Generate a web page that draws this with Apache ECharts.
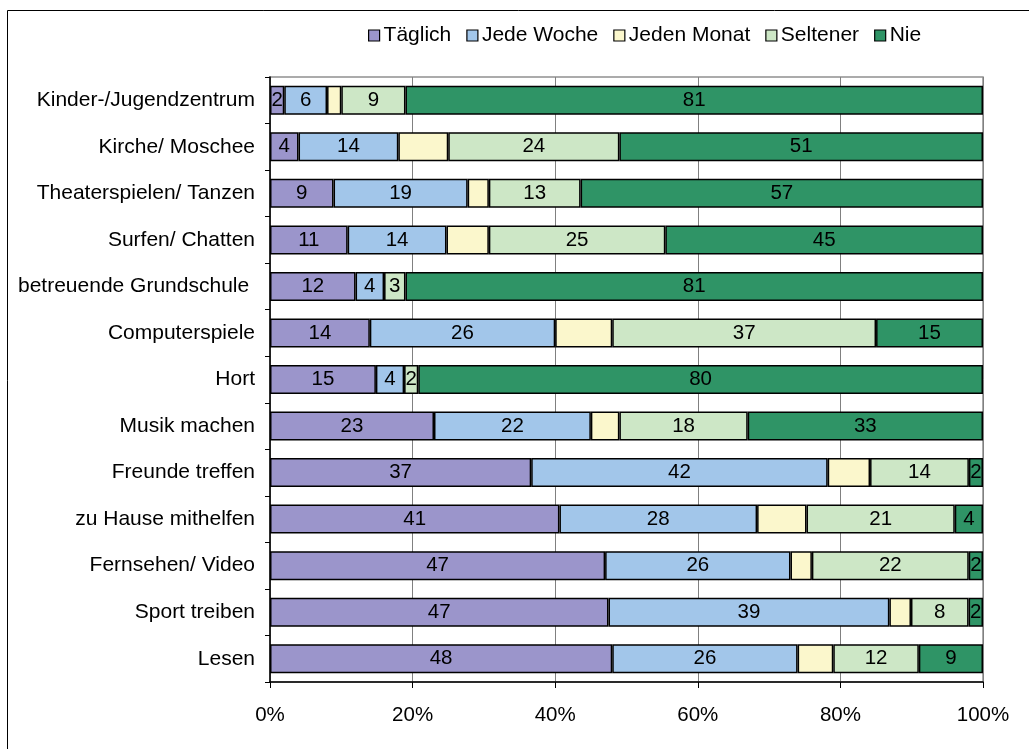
<!DOCTYPE html>
<html>
<head>
<meta charset="utf-8">
<script src="https://cdn.jsdelivr.net/npm/echarts@6/dist/echarts.min.js"></script>
<style>
  html, body { margin: 0; padding: 0; background: #fff; }
  #chart { width: 1029px; height: 749px; }
</style>
</head>
<body>
<div id="chart"></div>
<script>
// Freizeitaktivitäten: Häufigkeit in Prozent (100 % gestapelt)
const categories = [
  'Kinder-/Jugendzentrum', 'Kirche/ Moschee', 'Theaterspielen/ Tanzen', 'Surfen/ Chatten',
  'betreuende Grundschule ', 'Computerspiele', 'Hort', 'Musik machen', 'Freunde treffen',
  'zu Hause mithelfen', 'Fernsehen/ Video', 'Sport treiben', 'Lesen'
];
const seriesNames = ['Täglich', 'Jede Woche', 'Jeden Monat', 'Seltener', 'Nie'];
const taeglich   = [2, 4, 9, 11, 12, 14, 15, 23, 37, 41, 47, 47, 48];
const jedeWoche  = [6, 14, 19, 14, 4, 26, 4, 22, 42, 28, 26, 39, 26];
const jedenMonat = [2, 7, 3, 6, 0, 8, 0, 4, 6, 7, 3, 3, 5];
const seltener   = [9, 24, 13, 25, 3, 37, 2, 18, 14, 21, 22, 8, 12];
const nie        = [81, 51, 57, 45, 81, 15, 80, 33, 2, 4, 2, 2, 9];
const xTicks = [0, 20, 40, 60, 80, 100];

const colors = ['#9b95cb', '#a2c6ea', '#fbf7cc', '#cde7c6', '#2f9466'];
const showLabel = [true, true, false, true, true];
const rows = [taeglich, jedeWoche, jedenMonat, seltener, nie];

// row totals for normalising each bar to 100 %
const totals = categories.map((_, i) => rows.reduce((s, r) => s + r[i], 0));

const FONT = '"Liberation Sans", Arial, sans-serif';
const FS = 20.5;

const series = rows.map((vals, k) => ({
  name: seriesNames[k],
  type: 'bar',
  stack: 'total',
  barWidth: 29,
  itemStyle: { color: colors[k], borderColor: '#000', borderWidth: 1.5 },
  label: {
    show: showLabel[k],
    position: 'inside',
    color: '#000',
    fontFamily: FONT,
    fontSize: FS,
    formatter: p => String(vals[p.dataIndex])
  },
  emphasis: { disabled: true },
  data: vals.map((v, i) => v / totals[i] * 100)
}));

const chart = echarts.init(document.getElementById('chart'), null, { renderer: 'canvas' });
chart.setOption({
  animation: false,
  backgroundColor: '#fff',
  textStyle: { fontFamily: FONT },
  graphic: [{
    type: 'rect',
    shape: { x: 7.5, y: 10.5, width: 1100, height: 800 },
    style: { fill: 'none', stroke: '#000', lineWidth: 1 },
    silent: true
  }],
  legend: {
    top: 20,
    left: 363,
    itemWidth: 11,
    itemHeight: 11,
    itemGap: 15,
    icon: 'rect',
    itemStyle: { borderColor: '#000', borderWidth: 1.2 },
    textStyle: { fontFamily: FONT, fontSize: 21, color: '#000', padding: [0, 0, 0, -1] },
    data: seriesNames
  },
  grid: {
    left: 270, right: 46, top: 77, bottom: 67,
    show: true, borderColor: '#909090', borderWidth: 1.5
  },
  xAxis: {
    type: 'value',
    min: xTicks[0],
    max: xTicks[xTicks.length - 1],
    interval: xTicks[1] - xTicks[0],
    axisLine: { show: true, lineStyle: { color: '#000', width: 1.5 } },
    axisTick: { show: true, length: 6, lineStyle: { color: '#000' } },
    splitLine: { show: true, lineStyle: { color: '#808080', width: 1 } },
    axisLabel: { color: '#000', fontSize: FS, fontFamily: FONT, margin: 23, formatter: '{value}%' }
  },
  yAxis: {
    type: 'category',
    inverse: true,
    data: categories,
    axisLine: { show: true, lineStyle: { color: '#000', width: 1.5 } },
    axisTick: { show: true, length: 5, lineStyle: { color: '#000' } },
    axisLabel: { color: '#000', fontSize: 21, fontFamily: FONT, margin: 15 }
  },
  series: series
});
</script>
</body>
</html>
